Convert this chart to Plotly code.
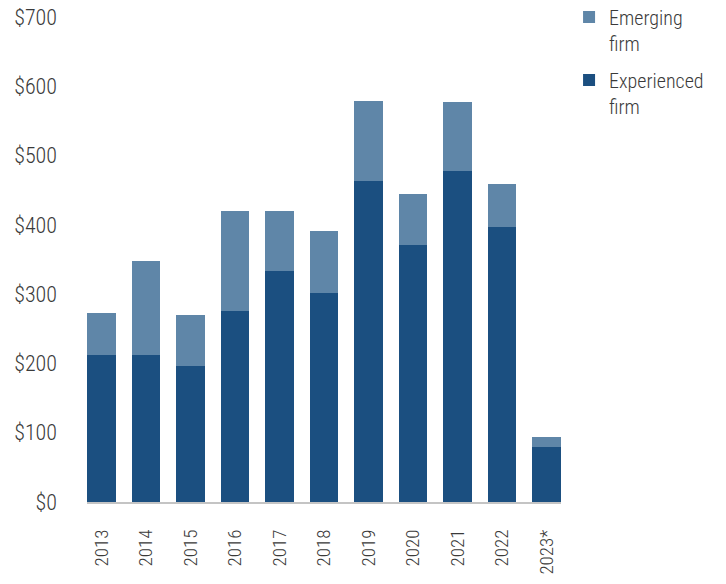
import plotly.graph_objs as go

years = ['2013', '2014', '2015', '2016', '2017', '2018', '2019', '2020', '2021', '2022', '2023*']
experienced = [212, 212, 196, 276, 333, 302, 463, 371, 478, 397, 79]
emerging = [61, 136, 74, 144, 87, 89, 116, 73, 99, 62, 15]
y_ticks = [0, 100, 200, 300, 400, 500, 600, 700]
y_labels = ['$' + str(v) for v in y_ticks]

font_name = 'Roboto Condensed, sans-serif'

fig = go.Figure()

fig.add_trace(go.Bar(
    x=list(range(len(years))), y=experienced,
    name='Experienced<br>firm', legendgroup='exp', legendrank=2,
    marker=dict(color='#1B4F80', line=dict(width=0)),
))
fig.add_trace(go.Bar(
    x=list(range(len(years))), y=emerging,
    name='Emerging<br>firm', legendgroup='emg', legendrank=1,
    marker=dict(color='#5F86A8', line=dict(width=0)),
))

# page body has an 8px margin, so the figure is sized down to fit the window
fig.update_layout(
    barmode='stack',
    bargap=0.35,
    width=718, height=576,
    margin=dict(l=79, r=165, t=9, b=82, autoexpand=False),
    paper_bgcolor='white', plot_bgcolor='white',
    font=dict(family=font_name, size=20, color='#3A3A3A', weight=300),
    showlegend=True,
    legend=dict(
        x=1.017, y=1.04, xanchor='left', yanchor='top',
        traceorder='grouped', tracegroupgap=8, valign='top',
        bgcolor='rgba(0,0,0,0)',
        font=dict(family=font_name, size=20, color='#3A3A3A', weight=300),
        itemwidth=30,
    ),
    xaxis=dict(
        tickmode='array', tickvals=list(range(len(years))), ticktext=years,
        range=[-0.325, 10.325], tickangle=-90,
        showline=True, linecolor='#C4C4C4', linewidth=2,
        showgrid=False, zeroline=False, ticks='',
        ticklabelstandoff=18, ticklabeloverflow='allow',
        tickfont=dict(size=19),
    ),
    yaxis=dict(
        tickmode='array', tickvals=y_ticks, ticktext=y_labels,
        range=[0, 700], showgrid=False, zeroline=False, showline=False,
        ticks='', ticklabelstandoff=29, ticklabeloverflow='allow',
        tickfont=dict(size=22),
    ),
)

fig.write_html("out.html")
